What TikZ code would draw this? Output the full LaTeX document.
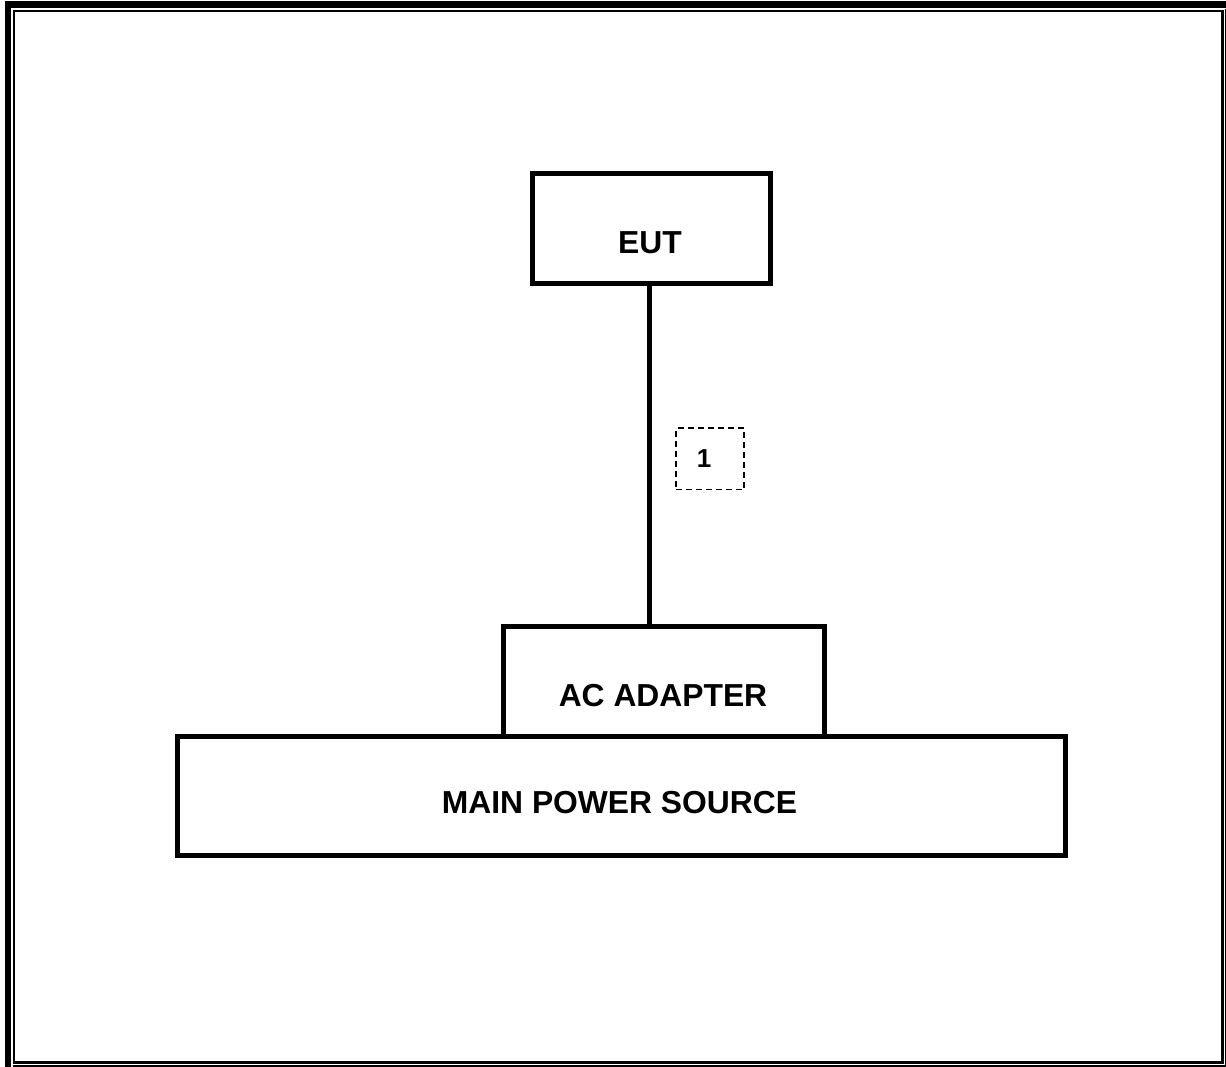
\documentclass[tikz,border=0pt]{standalone}
\usepackage{fontspec}
\setmainfont{Liberation Sans}
\begin{document}
\begin{tikzpicture}[x=1pt,y=-1pt,
  box/.style={draw=black,line width=5pt,rectangle,inner sep=0pt},
  lbl/.style={font=\bfseries\fontsize{31.8}{36}\selectfont,inner sep=0pt},
  numbox/.style={draw=black,line width=1.8pt,dash pattern=on 6pt off 4pt,rectangle,inner sep=0pt,minimum width=68pt,minimum height=61.5pt},
  wire/.style={line width=5pt}]
\useasboundingbox (0,0) rectangle (1226,1067);
% page border
\draw[line width=6.5pt] (8,1067) -- (8,4.75) -- (1226,4.75);
\draw[line width=2.2pt] (14,1062.5) -- (14,11) -- (1222.5,11);
\draw[line width=3.3pt] (1222.5,10) -- (1222.5,1062.5) -- (13,1062.5);
\draw[line width=1.6pt] (13,1065.7) -- (1226,1065.7);
\draw[line width=1.6pt] (1225.3,9) -- (1225.3,1066);
% boxes
\node[box,minimum width=238.5pt,minimum height=110pt] (eut) at (651.25,229) {};
\node[lbl] (eutlabel) at (650,242.5) {EUT};
\node[box,minimum width=888pt,minimum height=119.5pt] (main) at (621,795.75) {};
\node[lbl] (mainlabel) at (619.5,803) {MAIN POWER SOURCE};
\node[box,minimum width=321pt,minimum height=110pt] (adapter) at (663.5,681) {};
\node[lbl] (adapterlabel) at (663,695.5) {AC ADAPTER};
% connector
\coordinate (cx) at (649,0);
\draw[wire] (eut.south -| cx) -- ([yshift=-4pt]adapter.north -| cx);
% cable number
\node[numbox] (num) at (710,458.75) {};
\node[font=\bfseries\fontsize{26}{30}\selectfont,inner sep=0pt] (numlabel) at (704,459) {1};
\end{tikzpicture}
\end{document}
